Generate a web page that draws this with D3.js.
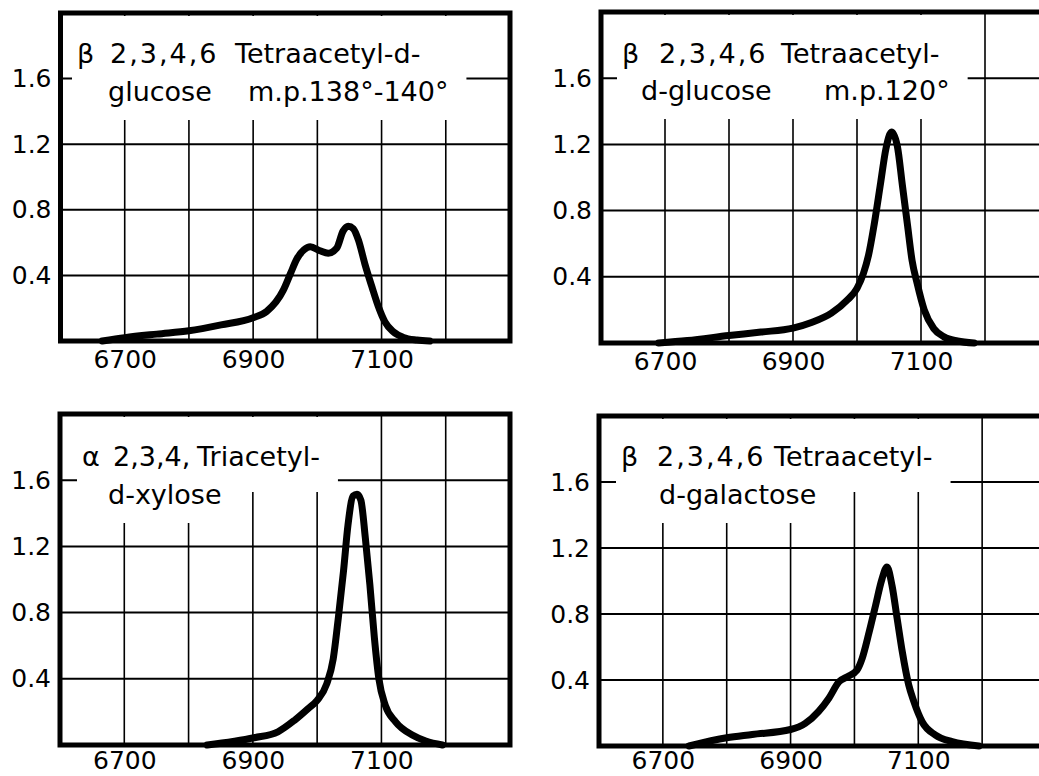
<!DOCTYPE html>
<html>
<head>
<meta charset="utf-8">
<script src="https://cdn.jsdelivr.net/npm/d3@7"></script>
<style>
  html, body { margin: 0; padding: 0; background: #fff; }
  svg { display: block; }
</style>
</head>
<body>
<script>
// ---------- DATA ----------
const xDomain = [6600, 7300];
const yDomain = [0, 2.0];
const xGridValues = [6700, 6800, 6900, 7000, 7100, 7200];
const yGridValues = [0.4, 0.8, 1.2, 1.6];
const xTickLabels = [6700, 6900, 7100];
const yTickLabels = [0.4, 0.8, 1.2, 1.6];

// β 2,3,4,6 Tetraacetyl-d-glucose m.p. 138°-140°
const glucose138Wave = [6665, 6700, 6750, 6800, 6850, 6900, 6921, 6947, 6958, 6968, 6979, 6989, 7004, 7017, 7030, 7040, 7048, 7056, 7064, 7074, 7085, 7095, 7105, 7118, 7134, 7155, 7175];
const glucose138Abs  = [0, 0.02, 0.042, 0.062, 0.098, 0.142, 0.18, 0.31, 0.41, 0.50, 0.555, 0.575, 0.55, 0.535, 0.565, 0.67, 0.70, 0.685, 0.615, 0.47, 0.33, 0.21, 0.118, 0.057, 0.022, 0.006, 0];

// β 2,3,4,6 Tetraacetyl-d-glucose m.p. 120°
const glucose120Wave = [6690, 6735, 6800, 6850, 6900, 6930, 6960, 6985, 7000, 7010, 7018, 7027, 7037, 7045, 7054, 7063, 7071, 7079, 7086, 7094, 7105, 7120, 7136, 7157, 7183];
const glucose120Abs  = [0, 0.015, 0.045, 0.066, 0.09, 0.125, 0.18, 0.26, 0.33, 0.42, 0.53, 0.72, 0.97, 1.17, 1.275, 1.19, 0.95, 0.71, 0.50, 0.36, 0.2, 0.087, 0.037, 0.012, 0];

// α 2,3,4 Triacetyl-d-xylose
const xyloseWave = [6829, 6902, 6939, 6965, 6986, 7000, 7015, 7025, 7033, 7041, 7048, 7056, 7062, 7068, 7075, 7082, 7089, 7096, 7106, 7122, 7148, 7169, 7195];
const xyloseAbs  = [0, 0.044, 0.08, 0.15, 0.22, 0.27, 0.37, 0.52, 0.77, 1.05, 1.33, 1.505, 1.515, 1.48, 1.25, 0.97, 0.65, 0.40, 0.24, 0.14, 0.06, 0.024, 0.0];

// β 2,3,4,6 Tetraacetyl-d-galactose
const galactoseWave = [6741, 6800, 6840, 6900, 6923, 6944, 6960, 6976, 6989, 7004, 7012, 7023, 7033, 7043, 7051, 7059, 7067, 7075, 7085, 7093, 7106, 7127, 7153, 7195];
const galactoseAbs  = [0, 0.05, 0.07, 0.1, 0.137, 0.21, 0.29, 0.39, 0.42, 0.46, 0.53, 0.69, 0.85, 1.01, 1.085, 0.97, 0.77, 0.57, 0.37, 0.27, 0.147, 0.066, 0.026, 0.0];

// Title text lines (segments)
const title1 = [["β", "2,3,4,6", "Tetraacetyl-d-"], ["glucose", "m.p.138°-140°"]];
const title2 = [["β", "2,3,4,6", "Tetraacetyl-"], ["d-glucose", "m.p.120°"]];
const title3 = [["α", "2,3,4,", "Triacetyl-"], ["d-xylose"]];
const title4 = [["β", "2,3,4,6", "Tetraacetyl-"], ["d-galactose"]];

// ---------- LAYOUT ----------
const W = 1039, H = 776;
const FONT = "'DejaVu Sans', 'Liberation Sans', sans-serif";
const panels = [
  { wave: glucose138Wave, abs: glucose138Abs, title: title1,
    left: 60.5, top: 13, right: 510, bottom: 341, tickPad: 9,
    lineDy: [50, 88], segX: [[16.5, 49.5, 174.5], [47.5, 187.5]], segLS: [[0, 2, 0], [0, 0]] },
  { wave: glucose120Wave, abs: glucose120Abs, title: title2,
    left: 601, top: 12, right: 1049, bottom: 343, tickPad: 9,
    lineDy: [51, 88], segX: [[21, 58, 180], [40, 223]], segLS: [[0, 2, 0], [0, 0]] },
  { wave: xyloseWave, abs: xyloseAbs, title: title3,
    left: 60, top: 414, right: 510, bottom: 745, tickPad: 6,
    lineDy: [52, 90], segX: [[22, 53, 137], [48]], segLS: [[0, 0, 0], [0]] },
  { wave: galactoseWave, abs: galactoseAbs, title: title4,
    left: 599, top: 416, right: 1046, bottom: 746, tickPad: 5.5,
    lineDy: [50, 88], segX: [[22, 58, 175], [60]], segLS: [[0, 2, 0], [0]] }
];

const svg = d3.select("body").append("svg")
  .attr("width", W).attr("height", H)
  .attr("viewBox", `0 0 ${W} ${H}`);

panels.forEach(p => {
  const x = d3.scaleLinear().domain(xDomain).range([p.left, p.right]);
  const y = d3.scaleLinear().domain(yDomain).range([p.bottom, p.top]);

  const g = svg.append("g");
  const gridG = g.append("g");
  const maskG = g.append("g");
  const textG = g.append("g");
  const curveG = g.append("g");
  const frameG = g.append("g");

  // grid
  gridG.selectAll("line.h").data(yGridValues).join("line")
    .attr("class", "h")
    .attr("x1", p.left).attr("x2", p.right)
    .attr("y1", d => y(d)).attr("y2", d => y(d))
    .attr("stroke", "#000").attr("stroke-width", 2);
  gridG.selectAll("line.v").data(xGridValues).join("line")
    .attr("class", "v")
    .attr("x1", d => x(d)).attr("x2", d => x(d))
    .attr("y1", p.top).attr("y2", p.bottom)
    .attr("stroke", "#000").attr("stroke-width", 1.6);

  // title text
  const lines = p.title.map((segs, li) => {
    const t = textG.append("text")
      .attr("y", p.top + p.lineDy[li])
      .attr("font-family", FONT)
      .attr("font-size", 27)
      .attr("fill", "#000");
    segs.forEach((s, si) => {
      t.append("tspan")
        .attr("x", p.left + p.segX[li][si])
        .attr("letter-spacing", p.segLS[li][si])
        .text(s);
    });
    return t;
  });

  // white-out behind title lines
  lines.forEach((t, li) => {
    const b = t.node().getBBox();
    const padB = li === 0 ? 20 : 13;
    maskG.append("rect")
      .attr("x", b.x - 5)
      .attr("y", p.top + 3)
      .attr("width", b.width + 23)
      .attr("height", (b.y + b.height + padB) - (p.top + 3))
      .attr("fill", "#fff");
  });

  // curve
  const pts = d3.zip(p.wave, p.abs);
  const line = d3.line()
    .x(d => x(d[0])).y(d => y(d[1]))
    .curve(d3.curveMonotoneX);
  curveG.append("path")
    .attr("d", line(pts))
    .attr("fill", "none")
    .attr("stroke", "#000")
    .attr("stroke-width", 7)
    .attr("stroke-linejoin", "round")
    .attr("stroke-linecap", "round");

  // frame
  frameG.append("rect")
    .attr("x", p.left).attr("y", p.top)
    .attr("width", p.right - p.left).attr("height", p.bottom - p.top)
    .attr("fill", "none").attr("stroke", "#000").attr("stroke-width", 5);

  // axes (labels only)
  const xa = g.append("g")
    .attr("transform", `translate(0,${p.bottom})`)
    .call(d3.axisBottom(x).tickValues(xTickLabels).tickSize(0).tickPadding(p.tickPad).tickFormat(d3.format("d")));
  xa.select(".domain").remove();
  xa.attr("font-size", 25).attr("font-family", FONT);
  xa.selectAll("text").attr("fill", "#000");

  const ya = g.append("g")
    .attr("transform", `translate(${p.left},0)`)
    .call(d3.axisLeft(y).tickValues(yTickLabels).tickSize(0).tickPadding(9).tickFormat(d3.format(".1f")));
  ya.select(".domain").remove();
  ya.attr("font-size", 25).attr("font-family", FONT);
  ya.selectAll("text").attr("fill", "#000");
});
</script>
</body>
</html>
